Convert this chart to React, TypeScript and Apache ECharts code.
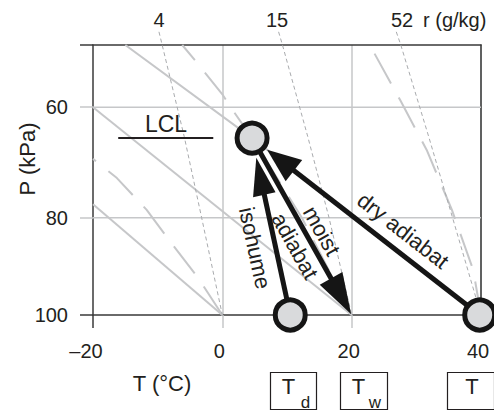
import React, { useEffect, useRef } from 'react';
import * as echarts from 'echarts';

// ---------- data (T in °C, P in kPa) ----------
const T_MIN = -20;
const T_MAX = 40;
const T_STEP = 20;
const P_TOP = 50;
const P_BOTTOM = 100;
const P_GRID = [60, 80];
const P_LABELS = [60, 80, 100];

const dryAdiabat0 = [[0, 100], [-20, 77.4]];
const dryAdiabat20 = [[20, 100], [-20, 60]];
const dryAdiabat40 = [[40, 100], [4.6, 65.3], [-15, 50]];

const moistAdiabat0 = [[0, 100], [-3.8, 92], [-7.9, 85], [-11.7, 78.5], [-16.3, 72.5], [-20, 69]];
const moistAdiabat20 = [[20, 100], [12.3, 80], [4.6, 65.3], [1.6, 60.5], [0.1, 58], [-4.2, 52.4], [-6.2, 50]];
const moistAdiabat40 = [[40, 100], [38.8, 90.5], [35.5, 78.5], [31.6, 67.4], [27.5, 58.8], [22.8, 50]];

const mixRatio4 = [[-9.8, 48], [-9.3, 50], [-5.9, 65], [-3.2, 80], [0, 100]];
const mixRatio15 = [[8.7, 48], [9.3, 50], [13.2, 65], [16.5, 80], [20, 100]];
const mixRatio52 = [[26.9, 48], [27.6, 50], [31.9, 65], [35.6, 80], [40, 100]];
const mixRatioLabels = ['4', '15', '52'];

const surfaceT = [39.8, 100];
const surfaceTd = [10.5, 100];
const surfaceTw = [20, 100];
const lcl = [4.6, 65.3];
const lclMarker = [[-16.1, 65.3], [-1.4, 65.3]];

// ---------- helpers ----------
const sp = (p: number) => Math.sqrt(p); // pressure axis coordinate
const toXY = (pts: number[][]) => pts.map(([t, p]) => [t, sp(p)]);

const FONT = 'Liberation Sans, Arial, Helvetica, sans-serif';
const INK = '#231f20';
const FRAME = '#3a3a3a';
const GRAY = '#c6c7c9';
const GRAY_THIN = '#a9abae';

const arrowSegments = [
  [surfaceT, lcl],
  [surfaceTd, lcl],
  [lcl, surfaceTw],
];
const arrowStyle = [
  { inset: 19, len: 34, width: 27 },
  { inset: 20, len: 38, width: 23 },
  { inset: 1, len: 41, width: 26 },
];

const arrowLabels = [
  { text: 'dry adiabat', to: surfaceT, along: 176, perp: 19.5 },
  { text: 'moist', to: surfaceTw, along: 115, perp: 15 },
  { text: 'adiabat', to: surfaceTw, along: 115, perp: -15.6 },
  { text: 'isohume', to: surfaceTd, along: 108, perp: -20.5 },
];

function lineSeries(pts: number[][], color: string, width: number, type: any, z = 1) {
  return {
    type: 'line',
    data: toXY(pts),
    showSymbol: false,
    symbol: 'none',
    clip: false,
    silent: true,
    z,
    lineStyle: { color, width, type, cap: 'butt' },
  };
}

export default function App() {
  const ref = useRef<HTMLDivElement>(null);

  useEffect(() => {
    if (!ref.current) return;
    const chart = echarts.init(ref.current, undefined, { renderer: 'svg' });

    const baseAxisX = {
      type: 'value',
      min: T_MIN,
      max: T_MAX,
      interval: T_STEP,
    };
    const baseAxisY = {
      type: 'value',
      min: sp(P_TOP),
      max: sp(P_BOTTOM),
      inverse: true,
    };

    const series: any[] = [];
    P_GRID.forEach((p) => {
      series.push(lineSeries([[T_MIN, p], [T_MAX, p]], GRAY, 1.5, 'solid', 0));
    });
    [dryAdiabat0, dryAdiabat20, dryAdiabat40].forEach((d) =>
      series.push(lineSeries(d, GRAY, 2, 'solid', 1))
    );
    [moistAdiabat0, moistAdiabat20, moistAdiabat40].forEach((d) =>
      series.push(lineSeries(d, GRAY, 2, [34, 16], 1))
    );
    [mixRatio4, mixRatio15, mixRatio52].forEach((d) =>
      series.push(lineSeries(d, GRAY_THIN, 1, [4, 3], 1))
    );
    series.push(lineSeries(lclMarker, INK, 2, 'solid', 2));

    series.push({
      type: 'custom',
      clip: false,
      silent: true,
      z: 3,
      encode: { x: [0, 2], y: [1, 3] },
      data: arrowSegments.map(([f, t]) => [f[0], sp(f[1]), t[0], sp(t[1])]),
      renderItem: (params: any, api: any) => {
        const a = api.coord([api.value(0), api.value(1)]);
        const b = api.coord([api.value(2), api.value(3)]);
        const s = arrowStyle[params.dataIndex];
        const dx = b[0] - a[0];
        const dy = b[1] - a[1];
        const L = Math.hypot(dx, dy);
        const ux = dx / L;
        const uy = dy / L;
        const nx = -uy;
        const ny = ux;
        const tip = [b[0] - ux * s.inset, b[1] - uy * s.inset];
        const base = [tip[0] - ux * s.len, tip[1] - uy * s.len];
        const hw = s.width / 2;
        return {
          type: 'group',
          children: [
            {
              type: 'line',
              shape: { x1: a[0], y1: a[1], x2: base[0] + ux * 3, y2: base[1] + uy * 3 },
              style: { stroke: '#151515', lineWidth: 5 },
            },
            {
              type: 'polygon',
              shape: {
                points: [
                  tip,
                  [base[0] + nx * hw, base[1] + ny * hw],
                  [base[0] - nx * hw, base[1] - ny * hw],
                ],
              },
              style: { fill: '#151515' },
            },
          ],
        };
      },
    });

    series.push({
      type: 'scatter',
      clip: false,
      silent: true,
      z: 5,
      symbol: 'circle',
      symbolSize: 30,
      data: toXY([surfaceT, surfaceTd, lcl]),
      itemStyle: { color: '#d9dadc', borderColor: '#151515', borderWidth: 5, opacity: 1 },
    });

    chart.setOption({
      animation: false,
      grid: { left: 93, right: 13, top: 45, bottom: 97, containLabel: false, outerBoundsMode: 'none' },
      xAxis: [
        {
          ...baseAxisX,
          position: 'bottom',
          axisLine: { show: true, onZero: false, lineStyle: { color: FRAME, width: 1.5 } },
          axisTick: { show: true, length: 13, customValues: [0, 20, 40], lineStyle: { color: GRAY, width: 1.5 } },
          axisLabel: {
            show: true,
            margin: 26,
            fontSize: 20,
            color: INK,
            fontFamily: FONT,
            padding: [0, 6, 0, 0],
            formatter: (v: number) => (v < 0 ? '{n|–' + Math.abs(v) + '}' : String(v)),
            rich: { n: { fontSize: 20, color: INK, fontFamily: FONT, padding: [0, 8, 0, 0] } },
          },
          splitLine: { show: true, lineStyle: { color: GRAY, width: 1.5 } },
        },
        {
          ...baseAxisX,
          position: 'bottom',
          axisLine: { show: false, onZero: false },
          axisTick: { show: true, length: 13, customValues: [T_MIN], lineStyle: { color: FRAME, width: 1.5 } },
          axisLabel: { show: false },
          splitLine: { show: false },
        },
        {
          ...baseAxisX,
          position: 'top',
          axisLine: { show: true, onZero: false, lineStyle: { color: FRAME, width: 1.5 } },
          axisTick: { show: false },
          axisLabel: { show: false },
          splitLine: { show: false },
        },
      ],
      yAxis: [
        {
          ...baseAxisY,
          position: 'left',
          axisLine: { show: true, onZero: false, lineStyle: { color: FRAME, width: 1.5 } },
          axisTick: { show: true, length: 13, customValues: [sp(P_TOP), sp(P_BOTTOM)], lineStyle: { color: FRAME, width: 1.5 } },
          axisLabel: {
            show: true,
            margin: 25,
            fontSize: 20,
            color: INK,
            fontFamily: FONT,
            customValues: P_LABELS.map(sp),
            formatter: (v: number) => String(Math.round(v * v)),
          },
          splitLine: { show: false },
        },
        {
          ...baseAxisY,
          position: 'left',
          axisLine: { show: false, onZero: false },
          axisTick: { show: true, length: 13, customValues: P_GRID.map(sp), lineStyle: { color: GRAY, width: 1.5 } },
          axisLabel: { show: false },
          splitLine: { show: false },
        },
        {
          ...baseAxisY,
          position: 'right',
          axisLine: { show: true, onZero: false, lineStyle: { color: FRAME, width: 1.5 } },
          axisTick: { show: false },
          axisLabel: { show: false },
          splitLine: { show: false },
        },
      ],
      series,
    });

    // ---- annotations computed from the chart's own scales ----
    const px = (pt: number[]) =>
      chart.convertToPixel({ xAxisIndex: 0, yAxisIndex: 0 }, [pt[0], sp(pt[1])]) as number[];
    const lclPx = px(lcl);
    const graphics: any[] = [];

    arrowLabels.forEach((l) => {
      const e = px(l.to);
      const dx = e[0] - lclPx[0];
      const dy = e[1] - lclPx[1];
      const L = Math.hypot(dx, dy);
      const ux = dx / L;
      const uy = dy / L;
      const nx = uy;
      const ny = -ux;
      graphics.push({
        type: 'text',
        x: lclPx[0] + ux * l.along + nx * l.perp,
        y: lclPx[1] + uy * l.along + ny * l.perp,
        rotation: -Math.atan2(uy, ux),
        z: 10,
        style: { text: l.text, fontSize: 22, fontFamily: FONT, fill: INK, align: 'center', verticalAlign: 'middle' },
      });
    });

    const txt = (text: string, x: number, y: number, size: number, align = 'center', rotation = 0) => ({
      type: 'text',
      x,
      y,
      rotation,
      z: 10,
      style: { text, fontSize: size, fontFamily: FONT, fill: INK, align, verticalAlign: 'middle' },
    });

    graphics.push(txt('LCL', 166, 124, 23));
    graphics.push(txt('T (°C)', 162, 383, 22));
    graphics.push(txt('P (kPa)', 27, 159, 22, 'center', Math.PI / 2));
    graphics.push(txt(mixRatioLabels[0], 159, 20, 20));
    graphics.push(txt(mixRatioLabels[1], 277, 20, 20));
    graphics.push(txt(mixRatioLabels[2], 402, 20, 20));
    graphics.push(txt('r (g/kg)', 423, 20, 20, 'left'));

    const boxes = [
      { x: 270, w: 46, main: 'T', sub: 'd', tx: 288.5, sx: 305.5 },
      { x: 340, w: 47, main: 'T', sub: 'w', tx: 358.5, sx: 375 },
      { x: 447, w: 47, main: 'T', sub: '', tx: 472, sx: 0 },
    ];
    boxes.forEach((b) => {
      graphics.push({
        type: 'rect',
        z: 10,
        shape: { x: b.x + 0.5, y: 372.5, width: b.w, height: 37 },
        style: { fill: 'none', stroke: INK, lineWidth: 1.2 },
      });
      graphics.push(txt(b.main, b.tx, 386, 22));
      if (b.sub) graphics.push(txt(b.sub, b.sx, 402, 17));
    });

    chart.setOption({ graphic: graphics });

    return () => chart.dispose();
  }, []);

  return (
    <div
      ref={ref}
      style={{ position: 'absolute', left: 0, top: 0, width: 494, height: 412, background: '#fff' }}
    />
  );
}
